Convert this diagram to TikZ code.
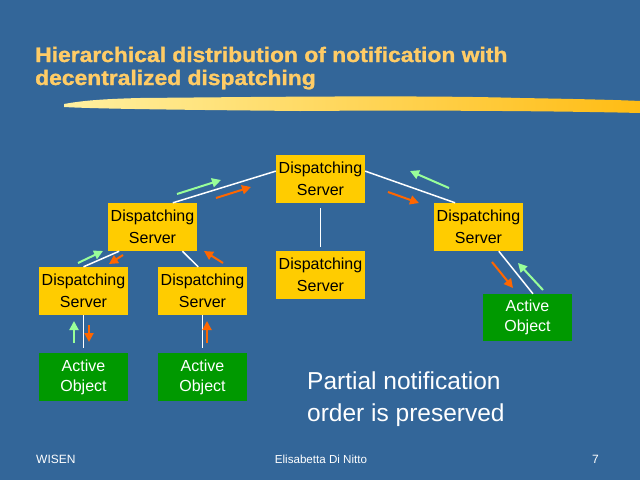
\documentclass[tikz,border=0pt]{standalone}
\usepackage{fontspec}
\usepackage{graphicx}
\setmainfont{Liberation Sans}
\usetikzlibrary{arrows.meta}
\definecolor{bg}{RGB}{51,102,153}
\definecolor{boxyellow}{RGB}{255,204,0}
\definecolor{boxgreen}{RGB}{0,153,0}
\definecolor{titlecol}{RGB}{255,204,102}
\definecolor{arrgreen}{RGB}{153,255,153}
\definecolor{arrorange}{RGB}{255,102,0}
\definecolor{brushA}{RGB}{255,240,160}
\definecolor{brushB}{RGB}{255,188,20}
\tikzset{
  server/.style={fill=boxyellow, minimum width=89pt, minimum height=48pt, inner sep=0pt, align=center, text=black, font=\fontsize{16}{22}\selectfont},
  aobj/.style={fill=boxgreen, minimum width=89pt, minimum height=48pt, inner sep=0pt, align=center, text=white, font=\fontsize{16}{20}\selectfont},
  link/.style={draw=white, line width=1.5pt},
  garr/.style={draw=arrgreen, fill=arrgreen, line width=2pt, -{Triangle[length=9pt,width=9pt]}},
  oarr/.style={draw=arrorange, fill=arrorange, line width=2pt, -{Triangle[length=9pt,width=9pt]}},
  titletext/.style={anchor=base west, inner sep=0pt, text=titlecol, font=\fontsize{21}{25}\bfseries\selectfont\addfontfeature{FakeBold=1.2}},
}
\begin{document}
\begin{tikzpicture}[x=1pt,y=-1pt]
\fill[bg] (0,0) rectangle (640,480);
\useasboundingbox (0,0) rectangle (640,480);
% title
\node[titletext] (t1) at (35,62) {\scalebox{1.088}[1]{Hierarchical distribution of notification with}};
\node[titletext] (t2) at (35,85) {\scalebox{1.088}[1]{decentralized dispatching}};
% brush stroke
\shade[left color=brushA, right color=brushB, shading angle=90]
  (64,104) .. controls (80,101) and (100,99) .. (140,98)
  .. controls (250,97) and (420,95) .. (520,98)
  .. controls (580,99) and (620,100) .. (640,101)
  -- (640,113) .. controls (560,111) and (420,110) .. (300,111)
  .. controls (200,110) and (100,109) .. (64,107) -- cycle;
% nodes
\node[server] (top) at (320.5,179) {Dispatching\\Server};
\node[server] (lm) at (152.5,227) {Dispatching\\Server};
\node[server] (r) at (478.5,227) {Dispatching\\Server};
\node[server] (mid) at (320.5,275) {Dispatching\\Server};
\node[server] (bl) at (83.5,291) {Dispatching\\Server};
\node[server] (bm) at (202.5,291) {Dispatching\\Server};
\node[aobj] (aol) at (83.5,377) {Active\\Object};
\node[aobj] (aom) at (202.5,377) {Active\\Object};
\node[aobj, minimum height=47pt] (aor) at (527.5,317.5) {Active\\Object};
% connectors
\draw[link] (lm.50) -- (top.170);
\draw[link] (top.10) -- (r.134);
\draw[link, shorten <=5pt, shorten >=4pt] (top.south) -- (mid.north);
\draw[link] (lm.216) -- (bl.north);
\draw[link] (lm.-39) -- (bm.100);
\draw[link, shorten >=5pt] (bl.south) -- (aol.north);
\draw[link, shorten >=5pt] (bm.south) -- (aom.north);
\draw[link] (r.-50) -- (aor.77);
% arrows
\draw[garr] (177,194) -- (221,180);
\draw[oarr] (216,198) -- (251,187);
\draw[garr] (449,188) -- (410,171);
\draw[oarr] (388,192) -- (419,203);
\draw[garr] (78,263) -- (103,251);
\draw[oarr] (123,255) -- (109,264);
\draw[oarr] (223,263) -- (204,251);
\draw[garr] (74,343) -- (74,321);
\draw[oarr] (89,325) -- (89,342);
\draw[oarr] (207,343) -- (207,321);
\draw[oarr] (492,262) -- (513,288);
\draw[garr] (543,290) -- (518,263);
% caption
\node[anchor=base west, inner sep=0pt, text=white, align=left, font=\fontsize{24.5}{32}\selectfont] (cap) at (307,421) {Partial notification\\order is preserved};
% footer
\node[anchor=base west, inner sep=0pt, text=white, font=\fontsize{12}{14}\selectfont] (f1) at (36,463) {WISEN};
\node[anchor=base, inner sep=0pt, text=white, font=\fontsize{11.6}{14}\selectfont] (f2) at (321,463) {Elisabetta Di Nitto};
\node[anchor=base east, inner sep=0pt, text=white, font=\fontsize{12}{14}\selectfont] (f3) at (599,463) {7};
\end{tikzpicture}
\end{document}
